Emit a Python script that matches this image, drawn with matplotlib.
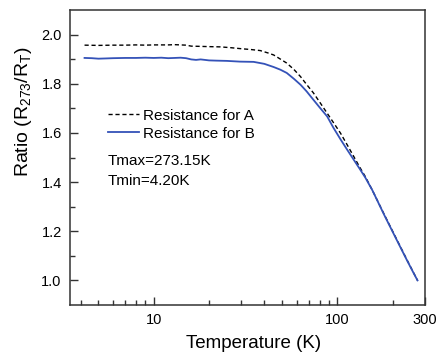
import matplotlib
matplotlib.use("Agg")
import matplotlib.pyplot as plt
from matplotlib.ticker import FixedLocator, NullFormatter

plt.rcParams['font.family'] = ['Liberation Sans', 'DejaVu Sans']
plt.rcParams['mathtext.fontset'] = 'custom'
plt.rcParams['mathtext.rm'] = 'Liberation Sans'

# curve A (dashed)
temp_a = [4.2, 5, 6, 7, 8, 9, 10, 11, 12, 13, 14, 15, 16, 18, 20, 23, 26, 29.5, 34, 38,
          42, 45, 49, 53, 58, 63, 68, 74, 80, 88, 95, 104, 113, 123, 132, 142,
          155, 180, 212, 240, 260, 273.15]
ratio_a = [1.957, 1.956, 1.957, 1.957, 1.958, 1.957, 1.958, 1.958, 1.958, 1.959, 1.958, 1.957,
           1.953, 1.952, 1.951, 1.950, 1.947, 1.943, 1.939, 1.935, 1.925, 1.917, 1.900,
           1.884, 1.858, 1.829, 1.797, 1.763, 1.726, 1.680, 1.643, 1.599, 1.552, 1.503,
           1.462, 1.422, 1.367, 1.268, 1.162, 1.082, 1.031, 1.000]

# curve B (solid blue)
temp_b = [4.2, 4.6, 5, 5.5, 6, 7, 8, 9, 10, 11, 12, 13, 14, 15, 16, 17, 18, 19, 20, 22,
          25, 29.5, 35, 40, 45, 49, 53, 58, 63, 68, 74, 80, 88, 95, 104, 113, 123, 132,
          142, 155, 180, 212, 240, 260, 273.15]
ratio_b = [1.905, 1.904, 1.902, 1.903, 1.904, 1.905, 1.905, 1.906, 1.905, 1.906, 1.904, 1.905,
           1.906, 1.904, 1.899, 1.897, 1.899, 1.897, 1.895, 1.894, 1.893, 1.890, 1.889,
           1.881, 1.868, 1.857, 1.844, 1.820, 1.796, 1.769, 1.735, 1.704, 1.667, 1.622,
           1.574, 1.532, 1.490, 1.455, 1.418, 1.367, 1.266, 1.160, 1.080, 1.030, 1.000]

x_ticks = [10, 100, 300]
x_ticklabels = ['10', '100', '300']
x_minor = [4, 5, 6, 7, 8, 9, 20, 30, 40, 50, 60, 70, 80, 90, 200]
y_ticks = [1.0, 1.2, 1.4, 1.6, 1.8, 2.0]

fig = plt.figure(figsize=(4.39, 3.54), dpi=100)
ax = fig.add_axes([70 / 439, 1 - 305 / 354, 355 / 439, 295 / 354])

ax.plot(temp_a, ratio_a, color='black', lw=1.0, linestyle=(0, (3, 2)),
        label='Resistance for A')
ax.plot(temp_b, ratio_b, color='#3452b8', lw=1.3, label='Resistance for B')

ax.set_xscale('log')
ax.set_xlim(3.5, 300)
ax.set_ylim(0.9, 2.1)
ax.set_xticks(x_ticks)
ax.set_xticklabels(x_ticklabels)
ax.xaxis.set_minor_locator(FixedLocator(x_minor))
ax.xaxis.set_minor_formatter(NullFormatter())
ax.set_yticks(y_ticks)
ax.set_yticklabels([f'{v:.1f}' for v in y_ticks])
ax.set_yticks([1.1, 1.3, 1.5, 1.7, 1.9], minor=True)

for s in ax.spines.values():
    s.set_color('#333333')
    s.set_linewidth(1.1)
ax.tick_params(which='major', direction='in', length=6, width=1, color='#333333',
               labelsize=10.5, pad=6)
ax.tick_params(which='minor', direction='in', length=3.5, width=1, color='#333333')

ax.set_xlabel('Temperature (K)', fontsize=13.5)
ax.xaxis.set_label_coords(0.517, -0.1)
ax.set_ylabel(r'Ratio (R$\mathregular{_{273}}$/R$\mathregular{_T}$)', fontsize=14)
ax.yaxis.set_label_coords(-0.1, 0.654)

ax.legend(loc='upper left', bbox_to_anchor=(0.107, 0.665), frameon=False,
          fontsize=11, handlelength=2.0, handletextpad=0.3, labelspacing=0.25,
          borderpad=0, borderaxespad=0)

ax.text(0.107, 0.488, 'Tmax=273.15K', transform=ax.transAxes, fontsize=11, va='center')
ax.text(0.107, 0.42, 'Tmin=4.20K', transform=ax.transAxes, fontsize=11, va='center')

fig.savefig('out.png', dpi=100)
